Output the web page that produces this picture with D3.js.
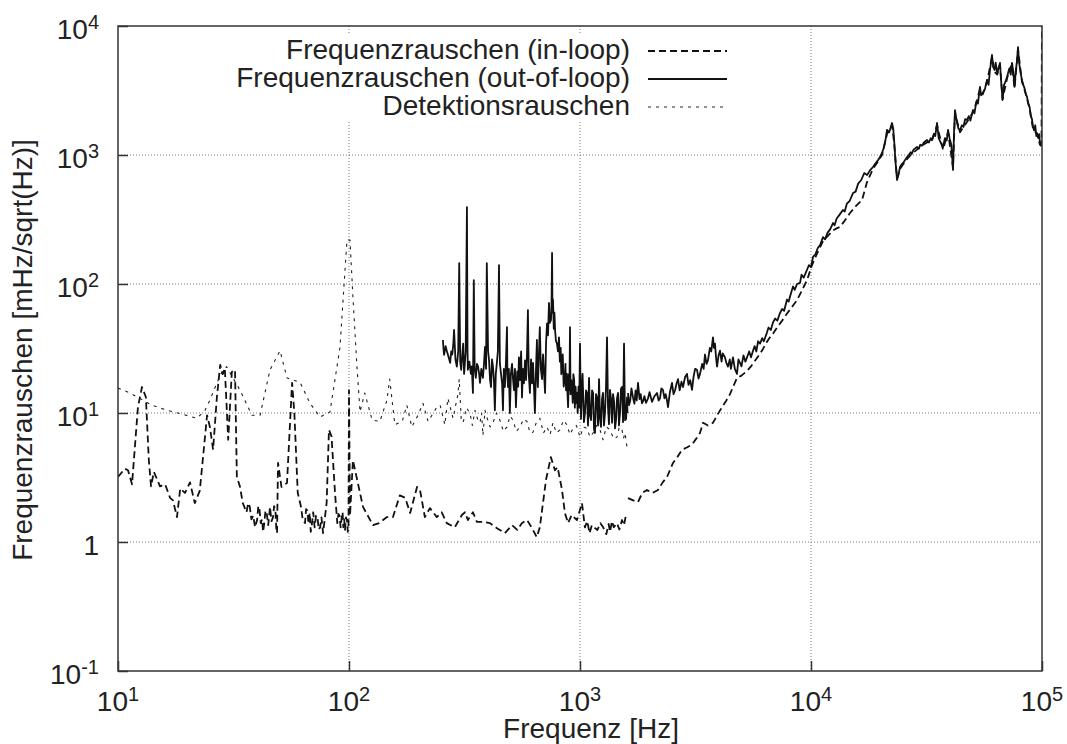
<!DOCTYPE html>
<html>
<head>
<meta charset="utf-8">
<script src="https://cdn.jsdelivr.net/npm/d3@7"></script>
<style>
body { margin: 0; background: #fff; }
svg text { font-family: "Liberation Sans", Arial, Helvetica, sans-serif; fill: #222; }
</style>
</head>
<body>
<script>
// ---------------- data ----------------
const seriesNames = ["Frequenzrauschen (in-loop)", "Frequenzrauschen (out-of-loop)", "Detektionsrauschen"];
const xTickVals = [10, 100, 1000, 10000, 100000];
const xTickExp = ["1", "2", "3", "4", "5"];
const yTickVals = [0.1, 1, 10, 100, 1000, 10000];
const yTickBase = ["10", "1", "10", "10", "10", "10"];
const yTickExp = ["-1", "", "1", "2", "3", "4"];
const xTitle = "Frequenz [Hz]";
const yTitle = "Frequenzrauschen [mHz/sqrt(Hz)]";

// in-loop, low-frequency measurement
const inLoopLowF = [10,10.7,11.05,11.5,12.2,12.7,13.2,13.6,13.9,14.3,15.2,16.0,16.8,17.3,18.0,18.6,19.5,20.5,21.5,22.6,24.3,25.0,25.8,26.8,27.7,28.4,29.0,30.0,31.1,32.1,32.7,33.7,34.7,36.0,36.6,37.2,37.8,38.5,39.2,40,40.5,41,41.5,42,42.5,43,43.5,44,44.7,45.5,46.2,46.9,47.4,48.0,48.4,48.8,49.3,51,53.9,56.7,58,60,62,63,64.5,65.2,66,66.8,67.6,68.3,69,70,71,72,73,74,75,76,77.2,78.5,80,81.9,84,87,89,90,91,92,93,93.8,94.5,95.3,96.1,97,98,98.8,99.5,100,101,104,115,127,135,146,155,166,175,184,197,203,213,224,240,252,265,287,308,318,327,344,358,381,408,437,473,508,535,560,590,620,650,670,688,713,748,779,800,836,860,888,920,970,1020,1050,1075,1100,1125,1150,1190,1225,1260,1300,1330,1349,1375,1400,1446,1480,1520,1550,1582];
const inLoopLowV = [3.2,3.7,3.6,2.8,11.1,15.9,13.3,4.3,2.7,3.5,2.7,2.8,2.2,2.1,1.56,2.6,2.4,2.9,2.0,2.5,9.6,7.8,5.2,13.3,23.6,20,22.3,6.2,20.8,21.6,3.2,2.7,2.0,1.7,2.0,1.87,1.5,1.6,1.3,1.48,1.9,1.77,1.4,1.5,1.2,1.42,1.75,1.7,1.35,1.87,1.45,1.56,1.9,1.8,1.3,1.17,4.1,2.67,2.87,17.1,10,2.4,1.87,1.5,1.4,1.8,1.75,1.4,1.68,1.2,1.35,1.7,1.3,1.6,1.56,1.25,1.3,1.55,1.17,1.5,2.0,7.4,6.6,2.4,1.4,1.65,1.6,1.3,1.56,1.7,1.3,1.5,1.24,1.55,1.48,1.2,1.3,15,1.6,4.3,1.87,1.35,1.4,1.56,1.56,2.3,2.2,1.68,2.67,2.53,1.56,1.83,1.56,1.7,1.4,1.3,1.62,1.7,1.48,1.7,1.43,1.43,1.4,1.28,1.17,1.35,1.24,1.4,1.48,1.28,1.09,1.3,1.87,3.05,4.55,3.6,3.8,2.53,1.68,1.4,1.62,1.48,2.0,1.3,1.45,1.17,1.35,1.3,1.24,1.4,1.3,1.15,1.38,1.2,1.45,1.3,1.4,1.25,1.48,1.35,1.62];

// in-loop, high-frequency measurement
const inLoopHighF = [1614,1700,1783,1860,1950,2060,2176,2280,2380,2527,2650,2764,2900,3054,3180,3307,3410,3580,3765,3950,4119,4300,4461,4600,4783,5000,5284,5500,5722,5950,6197,6400,6645,6900,7126,7500,7874,8300,8700,9100,9610,10100,10620,11270,11800,12450,12900,13350,14000,14750,15600,16630,17480,18550,19400,20300,21330,22420,22900,23570,24290,25100,26040,27300,28770,30200,31780,33400,35120,37280,39200,41190,42010,44160,45700,47350,50270,52000,53890,55390,57790,60750,62310,64000,65790,67490,70540,72300,74160,76070,78740,81900,84000,86100,88340,91430,95140,98020,99500,100000];
const inLoopHighV = [2.19,2.1,2.04,2.4,2.53,2.4,2.53,2.9,3.19,4.1,4.6,5.2,5.4,5.7,6.3,7.0,8.4,8.0,8.4,9.8,11.1,12.5,14,16,18.7,19.5,21.2,23,25.4,28,31.4,35,38.6,42,46,52,59,67,75,88,107,140,172,215,235,260,270,277,310,355,400,448,617,780,880,1000,1450,1700,1250,660,780,850,930,1020,1100,1180,1250,1300,1700,1100,1500,800,2100,1500,1650,1800,2150,2550,3250,2950,3700,5700,4400,4200,5000,2700,3900,4600,5000,3300,6600,3700,3200,2750,2300,1600,1450,1200,1250,12000];

// out-of-loop, low-frequency measurement
const outLoopLowF = [255,257,258,262,265,270,274,277,280,283,285,289,293,297,300,303,306,309,312,314,315,320,324,326,327,332,337,340,344,347,350,354,358,362,366,369,374,380,384,388,392,395,400,404,408,412,416,420,424,428,432,437,441,446,450,455,460,464,468,473,478,483,485,488,492,497,502,508,513,518,523,528,535,540,544,550,556,561,566,572,578,584,590,595,600,607,614,620,626,632,638,645,651,654,657,663,670,677,685,688,692,699,706,713,720,727,734,740,749,753,757,760,764,770,775,780,787,795,803,811,818,825,830,836,842,850,859,865,870,878,883,888,895,900,905,910,917,924,930,936,943,950,957,964,971,977,985,992,1000,1010,1020,1026,1040,1051,1062,1072,1083,1094,1105,1116,1128,1139,1150,1161,1173,1185,1197,1209,1221,1233,1246,1258,1270,1283,1296,1309,1322,1335,1348,1362,1376,1390,1404,1418,1432,1446,1461,1475,1490,1505,1520,1536,1551,1567,1583,1598,1605];
const outLoopLowV = [36.8,30,28.2,33,30.4,27,24.5,30,28.4,35,44,26,22.9,30,145,25,21.6,28,34.5,24,20.1,30,395,30,21.6,25,20.1,23,14.3,107,22,18.7,24,22.9,20,17.1,22,18.7,24,32.6,22,145,30,25.6,18,15.9,26,22.9,18,10.5,20,24.9,30,140,24,20.1,17,10.5,22,15.9,25,46.3,20,15.9,22,10,20,24,18.3,15,22,11.1,21,16,27,18,30,13.2,22,17,25.6,18,30,62.8,20,14.3,26,17,24.5,16,10,22,36.8,20,15.9,26,46.3,22,18.3,24,28.4,20,14.3,35,49.6,40,71.3,50,52.6,70,174,60,75.8,45,60,44,36,34.5,30,38.6,25,32,20,22.9,28.4,16,18.3,24,15,20.1,14,11.1,20,15,46.3,14,18,15.9,12,20,18.3,11,16,12,14.3,10,16,11,34.5,9,15.9,20.1,8.5,10,15,14.3,8,18.7,9.5,8.8,15,14.3,7.5,7.0,14,13.2,8,18.3,9,7.8,13,14.3,8,10,16,38.6,11.1,8.2,15.1,13,8.4,14,12.3,7.6,8.8,13,14.3,8,10,15.5,15.9,8.5,34.5,8.8,9,13.2,10,14,28.4,11.1];

// out-of-loop, high-frequency measurement
const outLoopHighF = [1614,1630,1650,1670,1696,1720,1740,1760,1783,1810,1830,1855,1880,1900,1930,1970,2000,2050,2100,2154,2190,2220,2250,2287,2320,2350,2380,2404,2450,2502,2540,2580,2620,2657,2700,2750,2792,2850,2905,2950,3000,3054,3100,3150,3210,3260,3307,3380,3430,3476,3530,3580,3650,3700,3765,3800,3840,3880,3920,3980,4037,4100,4150,4243,4300,4372,4450,4500,4596,4680,4783,4850,4927,5000,5100,5200,5284,5400,5500,5610,5700,5800,5900,6016,6150,6250,6451,6550,6700,6846,7000,7150,7341,7500,7650,7874,8000,8150,8357,8500,8700,8963,9100,9300,9610,9800,10000,10200,10450,10700,10950,11270,11500,11800,12100,12450,12650,12900,13300,13750,14000,14300,14700,15200,15600,16000,16500,17000,17500,18000,18550,19000,19400,19800,20300,20700,21000,21330,21800,22420,22700,22900,23200,23570,23900,24290,24700,25100,25600,26040,26500,27000,27300,27800,28770,29300,29700,30200,30800,31780,32400,33000,33400,34000,34500,35120,35700,36400,37280,38000,38700,39200,39800,40500,41190,41600,42010,42800,43500,44160,45000,45700,46500,47350,48200,49000,50270,51000,52000,52800,53890,54500,55390,56500,57790,58700,59500,60750,61500,62310,63000,64000,64800,65790,66500,67490,68500,69500,70540,71500,72300,73200,74160,75000,76070,77000,77800,78740,79500,80500,81900,83000,84000,85000,86100,87200,88340,89500,90500,91430,92500,93500,94500,95140,96500,97200,98020,99000,100000];
const outLoopHighV = [14.3,11.5,12.5,15.5,13.2,11.8,15,12.5,17.1,12.8,14,11.9,12.5,13.5,12,13,14.5,12.2,13.5,14.3,12.5,13,15.5,15.1,13,14,12.5,11.1,14.5,17.1,14,15,17,18.3,15,17.5,15.9,19,20.1,16.5,18,15.1,19,22,21.6,18.5,20.1,24,22,28.4,24,25.6,32,30,38.6,32,34.5,27,22.9,28,30.4,25,29,27,24.5,22.9,26,22,27,22,20.1,26,24.5,23,28,25,27,30,27,30.4,33,30,36,34.5,38,36,42.2,46,44,50.4,54,52,59.6,64,62,75.8,73,82,95.6,90,100,102,118,112,129,140,135,162,170,190,200,231,222,250,265,297,285,320,345,375,365,420,440,507,520,600,640,724,700,760,807,860,900,950,1037,1150,1300,1563,1500,1770,1600,1307,900,640,700,807,850,870,920,964,1000,1050,1020,1100,1153,1120,1200,1180,1250,1307,1250,1350,1300,1450,1400,1770,1350,1250,1153,1350,1300,1563,1350,1200,766,1500,2230,1800,1600,1563,1700,1650,1900,1866,2000,1850,2230,2100,2600,2500,3370,2900,3030,3200,3810,3500,4500,5960,4800,4560,5200,4300,4700,5170,3800,2670,3500,3700,4030,4400,4700,4200,5170,4500,3370,4500,5200,6870,5300,4500,3810,3500,3300,3000,2820,2500,2360,2000,1900,1650,1550,1700,1400,1480,1350,1450,1240,1180,1300];

// detection noise
const detF = [10,11.27,12.2,14.0,16.3,18.9,22.0,23.8,25.0,26.8,28.2,29.5,33.7,38.0,41.2,45.5,50.3,53.9,61.4,67.8,74.9,82.7,91.4,98.0,101,104,108,111.6,117,126,136,146,150,158,170,178,187,199,209,220,240,248,260,268,282,296,300,306,312,322,334,342,351,360,369,375,380,388,395,408,420,435,450,466,483,498,513,530,550,570,590,608,626,648,670,695,720,742,764,790,819,848,878,905,933,965,1000,1035,1072,1105,1139,1180,1221,1258,1300,1349,1400,1446,1480,1520,1545,1567,1598];
const detV = [15.6,14.3,13.2,11.5,10.5,9.8,9.1,10.5,12.6,17.1,20.8,22.9,15.1,9.6,9.6,21.6,30.4,18.7,17.3,11.9,9.3,10.2,32.3,219,219,79,24.5,10.2,14.3,8.8,8.6,12.6,18.3,8.1,8.6,11.5,7.8,9.6,11.9,8.6,11.1,11.5,8.1,13,9.1,13.9,18.3,9,8.4,11,10,8,10.5,9,8.4,10,6.7,10.5,9.3,7.8,8.4,10,8.8,7.2,7.8,9.5,8.8,7.2,7.8,9,8.6,7,7.1,8.5,9.1,7,7.8,6.8,8.4,7,7.4,8.8,8.1,6.8,7.6,8,6.5,7.8,7.6,6.5,7.0,8,7.4,6.2,7.8,7.4,6.3,6.5,7.8,7.4,6.4,7.0,5.4];

// ---------------- chart ----------------
const W = 1067, H = 744;
const X0 = 118, X1 = 1042, Y0 = 26, Y1 = 671;
const svg = d3.select("body").append("svg").attr("width", W).attr("height", H);

const x = d3.scaleLog().domain([10, 100000]).range([X0, X1]);
const y = d3.scaleLog().domain([0.1, 10000]).range([Y1, Y0]);

svg.append("defs").append("clipPath").attr("id", "clip")
  .append("rect").attr("x", X0).attr("y", Y0).attr("width", X1 - X0).attr("height", Y1 - Y0);

// grid
const grid = svg.append("g");
grid.selectAll("line.gy").data(yTickVals.slice(1, -1)).join("line")
  .attr("x1", X0).attr("x2", X1).attr("y1", d => y(d)).attr("y2", d => y(d))
  .attr("stroke", "#555").attr("stroke-width", 0.8).attr("stroke-dasharray", "1,2");
grid.selectAll("line.gx").data(xTickVals.slice(1, -1)).join("line")
  .attr("y1", Y0).attr("y2", Y1).attr("x1", d => x(d)).attr("x2", d => x(d))
  .attr("stroke", "#555").attr("stroke-width", 0.8).attr("stroke-dasharray", "1,2");

// legend mask over grid
svg.append("rect").attr("x", 270).attr("y", 35).attr("width", 470).attr("height", 87).attr("fill", "#fff");

// axes ticks
const axL = d3.axisLeft(y).tickValues(yTickVals).tickSize(-10).tickFormat("");
const gL = svg.append("g").attr("transform", `translate(${X0},0)`).call(axL);
const axB = d3.axisBottom(x).tickValues(xTickVals).tickSize(-10).tickFormat("");
const gB = svg.append("g").attr("transform", `translate(0,${Y1})`).call(axB);
[gL, gB].forEach(g => {
  g.select(".domain").remove();
  g.selectAll(".tick line").attr("stroke", "#333").attr("stroke-width", 1.5);
});

// series
const line = d3.line().x(d => x(d[0])).y(d => y(d[1]));
const plot = svg.append("g").attr("clip-path", "url(#clip)");
const styles = {
  inl: { stroke: "#111", w: 1.8, dash: "7,4" },
  out: { stroke: "#111", w: 1.8, dash: null },
  det: { stroke: "#222", w: 1.1, dash: "3,5" }
};
function drawSeries(F, V, st) {
  plot.append("path").datum(d3.zip(F, V)).attr("d", line)
    .attr("fill", "none").attr("stroke", st.stroke).attr("stroke-width", st.w)
    .attr("stroke-linejoin", "round")
    .attr("stroke-dasharray", st.dash);
}
drawSeries(detF, detV, styles.det);
drawSeries(inLoopLowF, inLoopLowV, styles.inl);
drawSeries(inLoopHighF, inLoopHighV, styles.inl);
drawSeries(outLoopLowF, outLoopLowV, styles.out);
drawSeries(outLoopHighF, outLoopHighV, styles.out);

// border
svg.append("rect").attr("x", X0).attr("y", Y0).attr("width", X1 - X0).attr("height", Y1 - Y0)
  .attr("fill", "none").attr("stroke", "#333").attr("stroke-width", 1.5);

// tick labels
yTickVals.forEach((v, i) => {
  const t = svg.append("text").attr("x", 99).attr("y", y(v) + 13)
    .attr("text-anchor", "end").attr("font-size", 28);
  t.append("tspan").text(yTickBase[i]);
  if (yTickExp[i]) t.append("tspan").attr("font-size", 20).attr("dy", -10).text(yTickExp[i]);
});
xTickVals.forEach((v, i) => {
  const t = svg.append("text").attr("x", x(v)).attr("y", 711)
    .attr("text-anchor", "middle").attr("font-size", 28);
  t.append("tspan").text("10");
  t.append("tspan").attr("font-size", 20).attr("dy", -10).text(xTickExp[i]);
});

// axis titles
svg.append("text").attr("x", 591).attr("y", 738).attr("text-anchor", "middle")
  .attr("font-size", 28).text(xTitle);
svg.append("text").attr("transform", "translate(32,350) rotate(-90)").attr("text-anchor", "middle")
  .attr("font-size", 28).text(yTitle);

// legend
const legStyles = [styles.inl, styles.out, styles.det];
seriesNames.forEach((n, i) => {
  const by = 59 + i * 28;
  svg.append("text").attr("x", 630).attr("y", by).attr("text-anchor", "end")
    .attr("font-size", 28).text(n);
  const st = legStyles[i];
  svg.append("line").attr("x1", 648).attr("x2", 727).attr("y1", by - 8).attr("y2", by - 8)
    .attr("stroke", st.stroke).attr("stroke-width", st.w).attr("stroke-dasharray", st.dash);
});
</script>
</body>
</html>
